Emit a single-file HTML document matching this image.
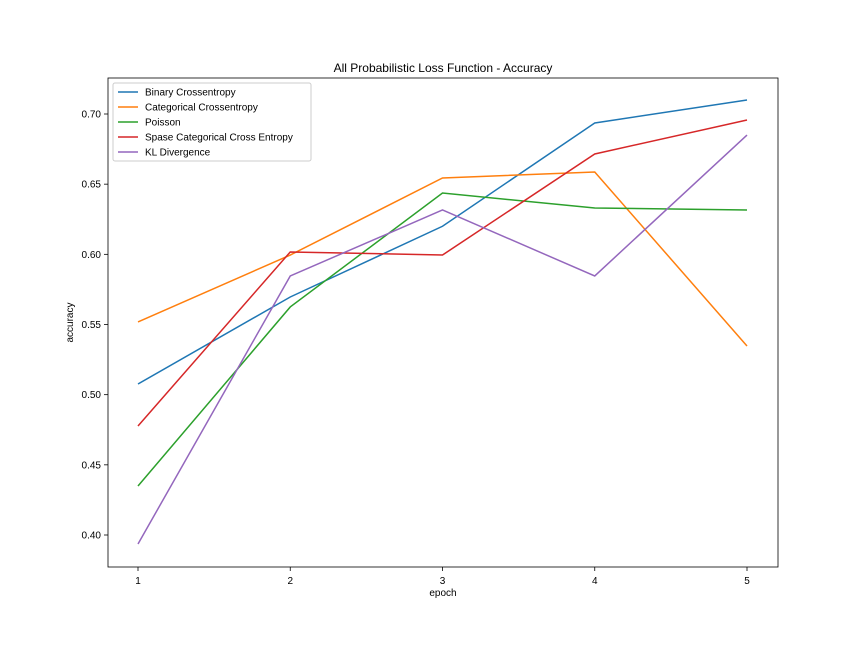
<!DOCTYPE html>
<html><head><meta charset="utf-8"><style>
body{margin:0;background:#fff;font-family:"Liberation Sans","DejaVu Sans",sans-serif}
</style></head><body>
<svg id="chart" width="864" height="648" xmlns="http://www.w3.org/2000/svg" style="display:block">
<rect width="864" height="648" fill="#fff"/>
<g id="plot"></g>
</svg>
<script>
const epochs=[1,2,3,4,5];
const seriesNames=["Binary Crossentropy","Categorical Crossentropy","Poisson","Spase Categorical Cross Entropy","KL Divergence"];
const binary=[0.5076,0.5696,0.620,0.6936,0.710];
const categorical=[0.5518,0.5995,0.6544,0.6587,0.5347];
const poisson=[0.4349,0.5625,0.6437,0.633,0.6316];
const sparse=[0.4777,0.6017,0.5995,0.6715,0.6957];
const kl=[0.3936,0.5846,0.6316,0.5846,0.685];
const yTicks=[0.40,0.45,0.50,0.55,0.60,0.65,0.70];
const colors=["#1f77b4","#ff7f0e","#2ca02c","#d62728","#9467bd"];
const all=[binary,categorical,poisson,sparse,kl];
const L=108,R=778,T=78,B=567;
const xs=e=>138+(e-1)*(747-138)/4;
const ys=v=>535-(v-0.4)*(535-114)/0.3;
const NS="http://www.w3.org/2000/svg";
const g=document.getElementById('plot');
function mk(t,a,txt){const e=document.createElementNS(NS,t);for(const k in a)e.setAttribute(k,a[k]);if(txt!==undefined)e.textContent=txt;g.appendChild(e);return e;}
let fr=mk('rect',{x:L,y:T,width:R-L,height:B-T,fill:'none',stroke:'#000','stroke-width':0.8});


epochs.forEach(e=>{
 let t=mk('line',{x1:xs(e),x2:xs(e),y1:B,y2:B+4,stroke:'#000','stroke-width':0.8});
 
 
 let l=mk('text',{x:xs(e),y:B+17,'font-size':10,'text-anchor':'middle'},String(e));
 
 
});
yTicks.forEach(v=>{
 let t=mk('line',{x1:L-4,x2:L,y1:ys(v),y2:ys(v),stroke:'#000','stroke-width':0.8});
 
 
 let l=mk('text',{x:L-7,y:ys(v)+3.5,'font-size':10,'text-anchor':'end'},v.toFixed(2));
 
 
});
all.forEach((s,i)=>{
 let p=mk('polyline',{points:s.map((v,j)=>xs(epochs[j])+','+ys(v)).join(' '),fill:'none',stroke:colors[i],'stroke-width':1.5});
 
 
});
let ti=mk('text',{x:(L+R)/2,y:72,'font-size':12,'text-anchor':'middle'},'All Probabilistic Loss Function - Accuracy');


let xt=mk('text',{x:(L+R)/2,y:596,'font-size':10,'text-anchor':'middle'},'epoch');


let yt=mk('text',{x:73,y:(T+B)/2,'font-size':10,'text-anchor':'middle',transform:'rotate(-90 73 '+((T+B)/2)+')'},'accuracy');


let lb=mk('rect',{x:113,y:83,width:198,height:78,fill:'#fff',stroke:'#ccc','stroke-width':1,rx:2});


seriesNames.forEach((n,i)=>{
 const y=92+i*15;
 let ln=mk('line',{x1:118,x2:138,y1:y,y2:y,stroke:colors[i],'stroke-width':1.5});
 
 
 let tx=mk('text',{x:145,y:y+3.5,'font-size':10},n);
 
 
});
</script>
</body></html>
